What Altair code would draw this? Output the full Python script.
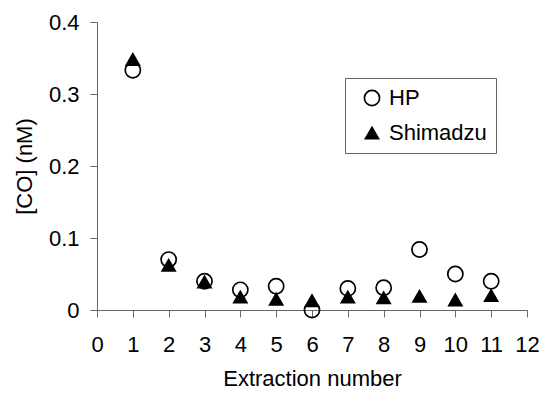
import altair as alt
import pandas as pd

extraction = [1, 2, 3, 4, 5, 6, 7, 8, 9, 10, 11]
hp = [0.333, 0.070, 0.040, 0.028, 0.033, 0.000, 0.030, 0.031, 0.084, 0.050, 0.040]
shimadzu = [0.348, 0.062, 0.039, 0.018, 0.015, 0.013, 0.018, 0.017, 0.019, 0.014, 0.020]
series_names = ["HP", "Shimadzu"]

rows = []
for name, vals in zip(series_names, [hp, shimadzu]):
    for x, v in zip(extraction, vals):
        rows.append({"Extraction": x, "CO": v, "series": name})
df = pd.DataFrame(rows)

FONT = "Liberation Sans"

chart = alt.Chart(df).mark_point(
    filled=True, strokeWidth=1.7, opacity=1
).encode(
    x=alt.X("Extraction:Q", title="Extraction number",
            scale=alt.Scale(domain=[0, 12], nice=False, zero=False),
            axis=alt.Axis(values=list(range(0, 13)), grid=False,
                          labelFlush=False, labelOverlap=False)),
    y=alt.Y("CO:Q", title="[CO] (nM)",
            scale=alt.Scale(domain=[0, 0.4], nice=False),
            axis=alt.Axis(values=[0, 0.1, 0.2, 0.3, 0.4], format=".1~f", grid=False,
                          labelFlush=False, labelOverlap=False)),
    shape=alt.Shape("series:N", title=None,
                    scale=alt.Scale(domain=series_names, range=["circle", "triangle-up"])),
    fill=alt.Fill("series:N", title=None,
                  scale=alt.Scale(domain=series_names, range=["transparent", "black"])),
    stroke=alt.Stroke("series:N", title=None,
                      scale=alt.Scale(domain=series_names, range=["black", "black"])),
    size=alt.Size("series:N", title=None,
                  scale=alt.Scale(domain=series_names, range=[230, 170])),
).properties(
    width=430, height=288,
    autosize=alt.AutoSizeParams(type="none"),
    padding={"left": 89, "top": 14, "right": 12, "bottom": 82},
).configure_view(
    stroke=None
).configure_axis(
    labelFont=FONT, titleFont=FONT, labelFontSize=22, titleFontSize=22,
    labelColor="black", titleColor="black", titleFontWeight="normal",
    domainColor="#666666", tickColor="#666666", tickSize=7,
    domainWidth=1, tickWidth=1,
).configure_axisX(
    labelPadding=17, titlePadding=13,
).configure_axisY(
    labelPadding=11, titlePadding=12,
).configure_legend(
    orient="none", legendX=248, legendY=56,
    labelFont=FONT, labelFontSize=22, labelColor="black",
    strokeColor="#666666", fillColor="white", padding=9,
    symbolStrokeWidth=1.7,
    rowPadding=13, labelOffset=6, symbolOffset=7,
)

chart.save("out.html", embed_options={"renderer": "svg", "actions": False})
